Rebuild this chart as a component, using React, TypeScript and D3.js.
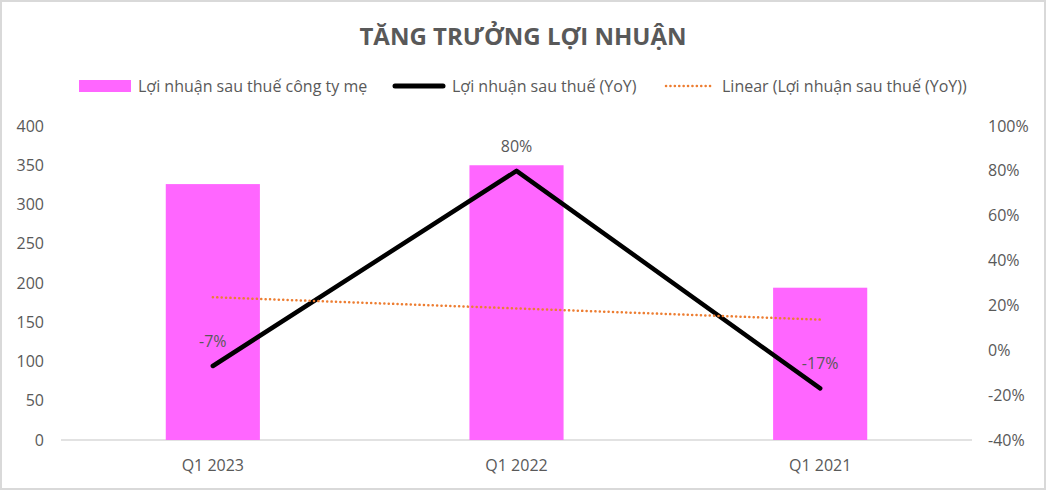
import React from "react";
import * as d3 from "d3";

const categories = ["Q1 2023", "Q1 2022", "Q1 2021"];
const profitValues = [326, 350, 194];
const yoyValues = [-7, 80, -17];
const leftTicks = [0, 50, 100, 150, 200, 250, 300, 350, 400];
const rightTicks = [-40, -20, 0, 20, 40, 60, 80, 100];
const title = "TĂNG TRƯỞNG LỢI NHUẬN";
const legendLabels = [
  "Lợi nhuận sau thuế công ty mẹ",
  "Lợi nhuận sau thuế (YoY)",
  "Linear (Lợi nhuận sau thuế (YoY))",
];

const W = 1046;
const H = 490;
const FONT = "'Open Sans', 'Noto Sans', sans-serif";
const TXT = "#595959";

export default function App() {
  const left = 61;
  const right = 972;
  const top = 126;
  const bottom = 440;

  const x = d3.scaleBand<string>().domain(categories).range([left, right]).paddingInner(0.69).paddingOuter(0.345);
  const yL = d3.scaleLinear().domain([0, 400]).range([bottom, top]);
  const yR = d3.scaleLinear().domain([-40, 100]).range([bottom, top]);
  const cx = (c: string) => (x(c) as number) + x.bandwidth() / 2;

  // linear trendline (least squares), as Excel computes it
  const idx = yoyValues.map((_, i) => i);
  const mx = d3.mean(idx) as number;
  const my = d3.mean(yoyValues) as number;
  const slope =
    d3.sum(idx.map((i) => (i - mx) * (yoyValues[i] - my))) / d3.sum(idx.map((i) => (i - mx) ** 2));
  const trend = idx.map((i) => my + slope * (i - mx));

  const line = d3
    .line<number>()
    .x((_, i) => cx(categories[i]))
    .y((d) => yR(d));

  return (
    <svg
      width={W}
      height={H}
      style={{ position: "fixed", left: 0, top: 0, background: "#fff" }}
      fontFamily={FONT}
    >
      <rect x={1} y={1} width={W - 2} height={H - 2} fill="#fff" stroke="#d9d9d9" strokeWidth={2} />
      <text x={523} y={45} textAnchor="middle" fontSize={24} fontWeight="bold" fill={TXT}>
        {title}
      </text>

      {/* legend */}
      <g fontSize={16} fill={TXT}>
        <rect x={79} y={80} width={52} height={12} fill="#FF66FF" />
        <text x={138} y={91.5}>{legendLabels[0]}</text>
        <line x1={395} x2={443} y1={86} y2={86} stroke="#000" strokeWidth={5} strokeLinecap="round" />
        <text x={452} y={91.5}>{legendLabels[1]}</text>
        <line x1={666} x2={714} y1={86} y2={86} stroke="#ED7D31" strokeWidth={2.5} strokeDasharray="0.1 4.3" strokeLinecap="round" />
        <text x={722} y={91.5}>{legendLabels[2]}</text>
      </g>

      {/* axis baseline */}
      <line x1={left} x2={right} y1={bottom} y2={bottom} stroke="#d9d9d9" strokeWidth={1.5} />

      {/* left ticks */}
      <g fontSize={16} fill={TXT} textAnchor="end">
        {leftTicks.map((t) => (
          <text key={t} x={44} y={yL(t) + 5.5}>{t}</text>
        ))}
      </g>
      {/* right ticks */}
      <g fontSize={16} fill={TXT} textAnchor="start">
        {rightTicks.map((t) => (
          <text key={t} x={988} y={yR(t) + 5.5}>{t}%</text>
        ))}
      </g>
      {/* x labels */}
      <g fontSize={16} fill={TXT} textAnchor="middle">
        {categories.map((c) => (
          <text key={c} x={cx(c)} y={471}>{c}</text>
        ))}
      </g>

      {/* bars */}
      {categories.map((c, i) => (
        <rect key={c} x={x(c)} y={yL(profitValues[i])} width={x.bandwidth()} height={bottom - yL(profitValues[i])} fill="#FF66FF" />
      ))}

      {/* yoy line */}
      <path d={line(yoyValues) as string} fill="none" stroke="#000" strokeWidth={4.5} strokeLinecap="round" strokeLinejoin="round" />

      {/* trendline */}
      <path d={line(trend) as string} fill="none" stroke="#ED7D31" strokeWidth={2.5} strokeDasharray="0.1 4.3" strokeLinecap="round" />

      {/* data labels */}
      <g fontSize={16} fill={TXT} textAnchor="middle">
        {categories.map((c, i) => (
          <text key={c} x={cx(c)} y={yR(yoyValues[i]) - 19}>{`${yoyValues[i]}%`}</text>
        ))}
      </g>
    </svg>
  );
}
